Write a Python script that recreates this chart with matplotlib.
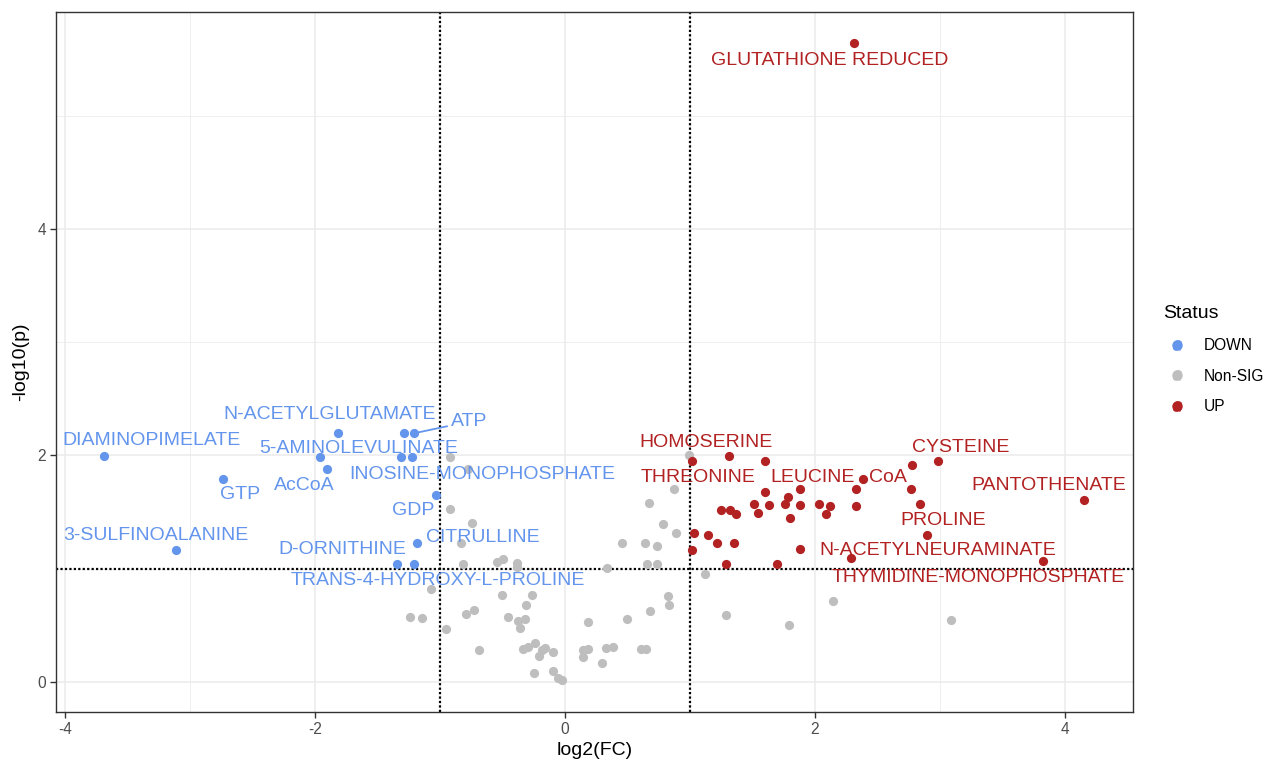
import numpy as np
import matplotlib.pyplot as plt
from matplotlib.lines import Line2D

plt.rcParams["font.family"] = ["Liberation Sans", "DejaVu Sans"]
plt.rcParams["axes.unicode_minus"] = False

# ── metabolites: log2 fold change and -log10(p) ──────────────────────────────
down_names = ["DIAMINOPIMELATE", "GTP", "3-SULFINOALANINE", "N-ACETYLGLUTAMATE", "",
              "ATP", "5-AMINOLEVULINATE", "", "INOSINE-MONOPHOSPHATE", "AcCoA", "GDP",
              "CITRULLINE", "D-ORNITHINE", "TRANS-4-HYDROXY-L-PROLINE"]
down_fc = [-3.686, -2.738, -3.112, -1.814, -1.286, -1.208, -1.960, -1.312, -1.226,
           -1.904, -1.032, -1.186, -1.346, -1.210]
down_p = [1.998, 1.790, 1.168, 2.196, 2.196, 2.196, 1.989, 1.989, 1.989, 1.878,
          1.654, 1.227, 1.042, 1.042]

up_names = ["GLUTATHIONE REDUCED", "THREONINE", "HOMOSERINE", "LEUCINE", "", "", "",
            "", "", "", "", "", "", "", "", "", "", "", "", "CoA", "", "", "", "",
            "CYSTEINE", "PROLINE", "PANTOTHENATE", "N-ACETYLNEURAMINATE",
            "THYMIDINE-MONOPHOSPHATE", "", "", "", "", "", "", "", ""]
up_fc = [2.314, 1.013, 1.315, 1.600, 1.600, 1.880, 1.781, 1.512, 1.635, 1.763, 1.880,
         1.547, 1.800, 1.245, 1.322, 1.368, 2.035, 2.116, 2.088, 2.380, 2.324, 2.328,
         2.772, 2.766, 2.982, 2.898, 4.154, 2.288, 3.822, 2.840, 1.030, 1.146, 1.216,
         1.352, 1.012, 1.876, 1.290, 1.694]
up_p = [5.640, 1.951, 1.993, 1.951, 1.680, 1.701, 1.636, 1.572, 1.563, 1.569, 1.563,
        1.492, 1.448, 1.522, 1.522, 1.483, 1.569, 1.551, 1.482, 1.790, 1.702, 1.558,
        1.914, 1.702, 1.951, 1.298, 1.610, 1.097, 1.066, 1.569, 1.318, 1.298, 1.229,
        1.229, 1.163, 1.172, 1.044, 1.044]
up_names = up_names + [""] * (len(up_fc) - len(up_names))

ns_fc = [-0.920, -0.773, -0.920, -0.747, -0.835, -0.813, -0.547, -0.499, -0.387,
         -0.387, -1.075, -0.507, -0.267, -0.315, -1.240, -1.141, -0.792, -0.728,
         -0.453, -0.373, -0.323, -0.360, -0.952, -0.691, -0.333, -0.293, -0.240,
         -0.187, -0.160, -0.093, -0.205, -0.248, -0.093, -0.053, -0.027, 0.187,
         0.147, 0.187, 0.147, 0.299, 0.333, 0.453, 0.499, 0.325, 0.387, 0.608,
         0.645, 0.643, 0.733, 0.653, 0.733, 0.669, 0.787, 0.875, 0.888, 0.680,
         0.827, 0.829, 0.995, 1.120, 1.285, 2.141, 1.792, 3.088]
ns_p = [1.989, 1.878, 1.528, 1.401, 1.230, 1.042, 1.060, 1.089, 1.048, 1.013, 0.821,
        0.771, 0.771, 0.683, 0.571, 0.562, 0.603, 0.633, 0.571, 0.541, 0.556, 0.480,
        0.468, 0.286, 0.294, 0.312, 0.342, 0.283, 0.298, 0.262, 0.230, 0.077, 0.100,
        0.032, 0.018, 0.532, 0.283, 0.290, 0.224, 0.165, 1.010, 1.227, 0.556, 0.298,
        0.312, 0.289, 0.289, 1.227, 1.198, 1.042, 1.042, 1.578, 1.398, 1.701, 1.316,
        0.630, 0.762, 0.680, 2.004, 0.954, 0.594, 0.715, 0.503, 0.545]

FC_CUT = 1.0
P_CUT = 1.0

# ── label placement (repelled by hand) ───────────────────────────────────────
label_xy = {
    "DIAMINOPIMELATE": (-3.304, 2.128),
    "GTP": (-2.600, 1.655),
    "3-SULFINOALANINE": (-3.272, 1.292),
    "N-ACETYLGLUTAMATE": (-1.880, 2.360),
    "ATP": (-0.764, 2.300),
    "5-AMINOLEVULINATE": (-1.650, 2.060),
    "AcCoA": (-2.084, 1.734),
    "INOSINE-MONOPHOSPHATE": (-0.660, 1.828),
    "GDP": (-1.216, 1.513),
    "CITRULLINE": (-0.654, 1.277),
    "D-ORNITHINE": (-1.784, 1.166),
    "TRANS-4-HYDROXY-L-PROLINE": (-1.020, 0.900),
    "GLUTATHIONE REDUCED": (2.120, 5.490),
    "HOMOSERINE": (1.128, 2.114),
    "THREONINE": (1.062, 1.810),
    "LEUCINE": (1.979, 1.810),
    "CoA": (2.584, 1.810),
    "CYSTEINE": (3.165, 2.070),
    "PANTOTHENATE": (3.867, 1.733),
    "PROLINE": (3.025, 1.423),
    "N-ACETYLNEURAMINATE": (2.983, 1.158),
    "THYMIDINE-MONOPHOSPHATE": (3.307, 0.923),
}
with_segment = {"ATP"}

COLORS = {"DOWN": "#6495ED", "Non-SIG": "#BEBEBE", "UP": "#B22222"}

fig = plt.figure(figsize=(12.67, 7.6), dpi=100)
ax = fig.add_axes([56 / 1267, 48 / 760, 1077 / 1267, 700 / 760])

groups = [("Non-SIG", ns_fc, ns_p, None),
          ("DOWN", down_fc, down_p, down_names),
          ("UP", up_fc, up_p, up_names)]

for status, fc, p, names in groups:
    ax.scatter(fc, p, s=44, color=COLORS[status], linewidths=0, zorder=3)
    if names is None:
        continue
    for x, y, name in zip(fc, p, names):
        if not name:
            continue
        tx, ty = label_xy[name]
        if name in with_segment:
            ax.annotate(name, xy=(x, y), xytext=(tx, ty), ha="center", va="center",
                        fontsize=14, color=COLORS[status], zorder=4,
                        arrowprops=dict(arrowstyle="-", color=COLORS[status], lw=1.3,
                                        shrinkA=1, shrinkB=3))
        else:
            ax.text(tx, ty, name, ha="center", va="center", fontsize=14,
                    color=COLORS[status], zorder=4)

# thresholds
for xv in (-FC_CUT, FC_CUT):
    ax.axvline(xv, color="black", lw=1.6, ls=(0, (1, 1)), zorder=2)
ax.axhline(P_CUT, color="black", lw=1.6, ls=(0, (1, 1)), zorder=2)

ax.set_xlim(-4.072, 4.544)
ax.set_ylim(-0.265, 5.916)
ax.set_xticks([-4, -2, 0, 2, 4])
ax.set_yticks([0, 2, 4])
ax.set_xticks([-3, -1, 1, 3], minor=True)
ax.set_yticks([1, 3, 5], minor=True)
ax.grid(which="major", color="#EBEBEB", lw=1.1, zorder=0)
ax.grid(which="minor", color="#EBEBEB", lw=0.55, zorder=0)
ax.set_axisbelow(True)
ax.tick_params(which="major", direction="out", length=4, width=1, color="#333333",
               labelsize=11.2, labelcolor="#4D4D4D", pad=3)
ax.tick_params(which="minor", length=0)
for sp in ax.spines.values():
    sp.set_color("#333333")
    sp.set_linewidth(1.0)

ax.set_xlabel("log2(FC)", fontsize=14, labelpad=4)
ax.set_ylabel("-log10(p)", fontsize=14, labelpad=6)

# legend: point with a text glyph on top, like a repel-label key
handles = []
for status in ("DOWN", "Non-SIG", "UP"):
    dot = Line2D([], [], ls="", marker="o", ms=6.5, mfc=COLORS[status],
                 mec=COLORS[status])
    glyph = Line2D([], [], ls="", marker="$a$", ms=7, mfc=COLORS[status],
                   mec=COLORS[status], mew=0.4)
    handles.append((dot, glyph))
leg = fig.legend(handles, ["DOWN", "Non-SIG", "UP"], title="Status",
                 loc="upper left", bbox_to_anchor=(1151 / 1267, 1 - 293 / 760),
                 frameon=False, fontsize=11.2, title_fontsize=14,
                 handlelength=1.8, handletextpad=0.8, labelspacing=1.0,
                 alignment="left", borderpad=0.3)

fig.savefig("out.png", dpi=100)
